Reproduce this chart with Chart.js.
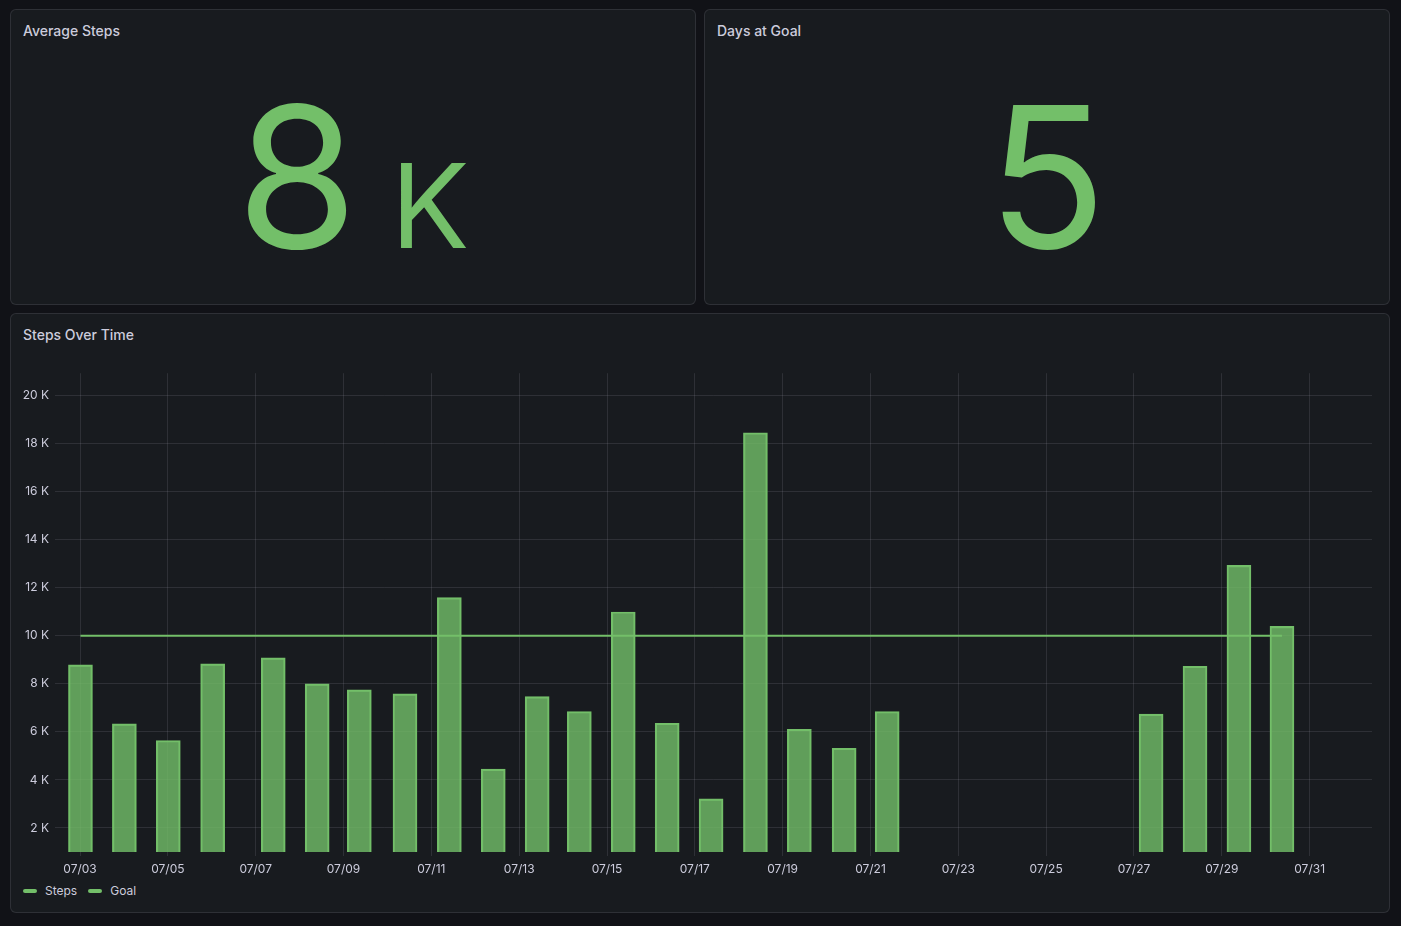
<!DOCTYPE html>
<html>
<head>
<meta charset="utf-8">
<title>Steps dashboard</title>
<script src="https://cdn.jsdelivr.net/npm/chart.js@4/dist/chart.umd.min.js"></script>
<style>
  html, body { margin: 0; padding: 0; }
  body {
    width: 1401px; height: 926px; overflow: hidden;
    background: #111217;
    font-family: Inter, 'Noto Sans', sans-serif;
    color: #ccccdc;
    position: relative;
  }
  .panel {
    position: absolute;
    box-sizing: border-box;
    background: #181b1f;
    border: 1px solid rgba(204, 204, 220, 0.12);
    border-radius: 6px;
  }
  .title {
    position: absolute;
    font-size: 14px; font-weight: 500; line-height: 14px;
    color: #ccccdc;
    white-space: nowrap;
  }
  .stat {
    position: absolute;
    text-align: center;
    color: #73bf69;
    font-size: 196px; line-height: 196px;
    white-space: pre;
  }
  .stat .unit { font-size: 117px; }
  #chartBox { position: absolute; left: 10px; top: 360px; width: 1370px; height: 520px; }
  .legend {
    position: absolute; left: 23px; top: 884px;
    display: flex; align-items: center; gap: 0;
    font-size: 12px; line-height: 14px; color: #ccccdc;
  }
  .legend .item { display: flex; align-items: center; margin-right: 11px; }
  .legend .mark {
    width: 14px; height: 4px; border-radius: 2px; background: #73bf69;
    margin-right: 8px;
  }
</style>
</head>
<body>

<div class="panel" style="left:10px; top:9px; width:686px; height:296px;"></div>
<div class="panel" style="left:704px; top:9px; width:686px; height:296px;"></div>
<div class="panel" style="left:10px; top:313px; width:1380px; height:600px;"></div>

<div class="title" style="left:23px; top:24px;">Average Steps</div>
<div class="title" style="left:717px; top:24px;">Days at Goal</div>
<div class="title" style="left:23px; top:328px;">Steps Over Time</div>

<div class="stat" id="avgStat" style="left:10px; top:79px; width:686px;"></div>
<div class="stat" id="goalStat" style="left:704px; top:79px; width:686px;"></div>

<div id="chartBox"><canvas id="stepsChart"></canvas></div>

<div class="legend">
  <div class="item"><span class="mark"></span>Steps</div>
  <div class="item"><span class="mark"></span>Goal</div>
</div>

<script>
// --- data ---
// x position of each bar in days of July (bars after 07/06 sit a few hours later)
const dayPositions = [3.01, 4.01, 5.01, 6.02, 7.4, 8.4, 9.36, 10.4, 11.41, 12.41, 13.41,
  14.37, 15.37, 16.37, 17.37, 18.38, 19.38, 20.4, 21.38, 27.39, 28.39, 29.39, 30.37];
const steps = [8790, 6330, 5640, 8830, 9080, 8000, 7750, 7580, 11590, 4450, 7470,
  6850, 10990, 6360, 3210, 18450, 6110, 5320, 6850, 6740, 8730, 12930, 10390];
const goal = [10000, 10000, 10000, 10000, 10000, 10000, 10000, 10000, 10000, 10000, 10000,
  10000, 10000, 10000, 10000, 10000, 10000, 10000, 10000, 10000, 10000, 10000, 10000];

const xTickDays = [3, 5, 7, 9, 11, 13, 15, 17, 19, 21, 23, 25, 27, 29, 31];
const yTickValues = [2000, 4000, 6000, 8000, 10000, 12000, 14000, 16000, 18000, 20000];
const xRange = [2.43, 32.42];
const yRange = [1000, 20930];

const avgValue = '8';
const avgUnit = ' K';
const daysAtGoal = '5';

const green = '#73bf69';
const gridColor = 'rgba(204, 204, 220, 0.12)';

document.getElementById('avgStat').innerHTML = avgValue + '<span class="unit">' + avgUnit + '</span>';
document.getElementById('goalStat').textContent = daysAtGoal;

Chart.defaults.font.family = "Inter, 'Noto Sans', sans-serif";
Chart.defaults.font.size = 12;
Chart.defaults.color = '#ccccdc';

const stepPoints = dayPositions.map((d, i) => ({ x: d, y: steps[i] }));
const goalPoints = dayPositions.map((d, i) => ({ x: d, y: goal[i] }));

new Chart(document.getElementById('stepsChart'), {
  data: {
    datasets: [
      {
        type: 'line',
        label: 'Goal',
        data: goalPoints,
        borderColor: green,
        borderWidth: 2,
        pointRadius: 0,
        fill: false,
        order: 0
      },
      {
        type: 'bar',
        label: 'Steps',
        data: stepPoints,
        backgroundColor: 'rgba(115, 191, 105, 0.8)',
        borderColor: green,
        borderWidth: 1.5,
        borderSkipped: false,
        barThickness: 24,
        order: 1
      }
    ]
  },
  options: {
    responsive: true,
    maintainAspectRatio: false,
    animation: false,
    layout: { padding: { top: 8, right: 8, left: 0, bottom: 0 } },
    plugins: {
      legend: { display: false },
      tooltip: { enabled: false }
    },
    scales: {
      x: {
        type: 'linear',
        offset: false,
        min: xRange[0],
        max: xRange[1],
        border: { display: false },
        grid: { offset: false, color: gridColor, drawTicks: true, tickLength: 4, tickColor: gridColor },
        afterBuildTicks(axis) { axis.ticks = xTickDays.map(v => ({ value: v })); },
        afterFit(axis) { axis.height = 28; },
        ticks: {
          autoSkip: false,
          maxRotation: 0,
          padding: 6,
          color: '#ccccdc',
          callback: v => '07/' + String(v).padStart(2, '0')
        }
      },
      y: {
        min: yRange[0],
        max: yRange[1],
        border: { display: false },
        grid: { color: gridColor, drawTicks: false },
        afterBuildTicks(axis) { axis.ticks = yTickValues.map(v => ({ value: v })); },
        afterFit(axis) { axis.width = 45; },
        ticks: {
          padding: 6,
          color: '#ccccdc',
          callback: v => (v / 1000) + ' K'
        }
      }
    }
  }
});
</script>
</body>
</html>
